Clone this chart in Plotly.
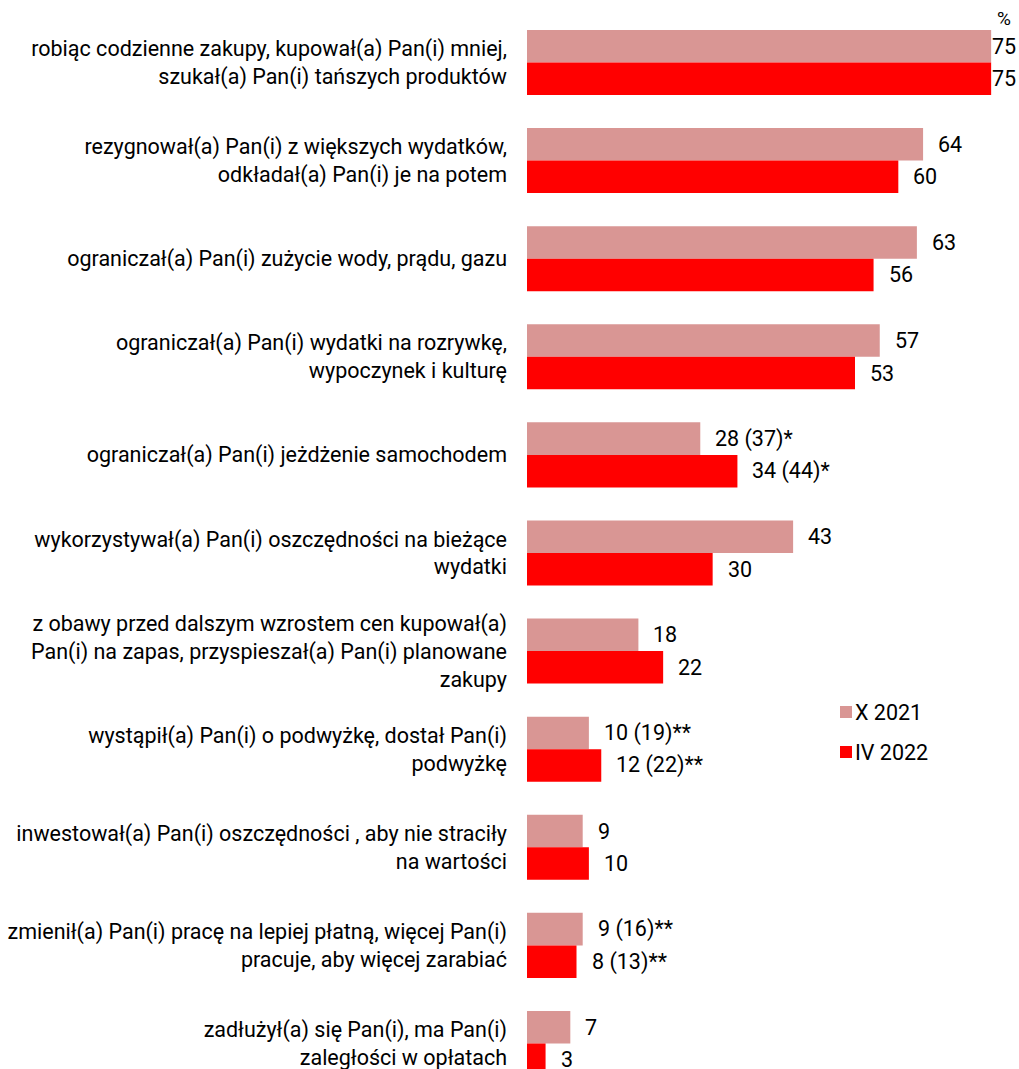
import plotly.graph_objects as go

categories = [
    "robiąc codzienne zakupy, kupował(a) Pan(i) mniej,<br>szukał(a) Pan(i) tańszych produktów",
    "rezygnował(a) Pan(i) z większych wydatków,<br>odkładał(a) Pan(i) je na potem",
    "ograniczał(a) Pan(i) zużycie wody, prądu, gazu",
    "ograniczał(a) Pan(i) wydatki na rozrywkę,<br>wypoczynek i kulturę",
    "ograniczał(a) Pan(i) jeżdżenie samochodem",
    "wykorzystywał(a) Pan(i) oszczędności na bieżące<br>wydatki",
    "z obawy przed dalszym wzrostem cen kupował(a)<br>Pan(i) na zapas, przyspieszał(a) Pan(i) planowane<br>zakupy",
    "wystąpił(a) Pan(i) o podwyżkę, dostał Pan(i)<br>podwyżkę",
    "inwestował(a) Pan(i) oszczędności , aby nie straciły<br>na wartości",
    "zmienił(a) Pan(i) pracę na lepiej płatną, więcej Pan(i)<br>pracuje, aby więcej zarabiać",
    "zadłużył(a) się Pan(i), ma Pan(i)<br>zaległości w opłatach",
]
series_names = ["X 2021", "IV 2022"]
values_2021 = [75, 64, 63, 57, 28, 43, 18, 10, 9, 9, 7]
values_2022 = [75, 60, 56, 53, 34, 30, 22, 12, 10, 8, 3]
labels_2021 = ["75", "64", "63", "57", "28 (37)*", "43", "18", "10 (19)**", "9", "9 (16)**", "7"]
labels_2022 = ["75", "60", "56", "53", "34 (44)*", "30", "22", "12 (22)**", "10", "8 (13)**", "3"]
colors = ["#d99694", "#ff0000"]

FONT = "Roboto"
FS = 21.5
W, H, L = 1019, 1069, 527
pos = list(range(len(categories)))

fig = go.Figure()
for name, vals, col in zip(series_names, [values_2021, values_2022], colors):
    fig.add_trace(go.Bar(
        y=pos, x=vals, orientation="h", name=name, marker_color=col,
        marker_line_width=0, showlegend=False,
    ))

# value labels
off = 0.1657
annotations = []
for vals, labs, sign in [(values_2021, labels_2021, -1), (values_2022, labels_2022, 1)]:
    for i, (v, t) in enumerate(zip(vals, labs)):
        annotations.append(dict(
            x=v, y=i + sign * off, text=t, showarrow=False, xanchor="left",
            yanchor="middle", xshift=13 if v < 72 else -1,
            font=dict(family=FONT, size=FS, color="#000"),
        ))
annotations.append(dict(
    x=1.0, y=1.0, xref="paper", yref="paper", text="%", showarrow=False,
    xanchor="right", yanchor="top", xshift=-6, yshift=-5,
    font=dict(family=FONT, size=19, color="#000"),
))

# custom legend
shapes = []
leg_px = [(840, 712), (840, 752)]
for (px, py), name, col in zip(leg_px, series_names, colors):
    shapes.append(dict(
        type="rect", xref="paper", yref="paper",
        x0=(px - L) / (W - L), x1=(px + 12 - L) / (W - L),
        y0=1 - (py + 6) / H, y1=1 - (py - 6) / H,
        fillcolor=col, line_width=0,
    ))
    annotations.append(dict(
        x=(px + 12 - L) / (W - L), y=1 - py / H, xref="paper", yref="paper",
        text=name, showarrow=False, xanchor="left", yanchor="middle", xshift=1,
        font=dict(family=FONT, size=FS, color="#000"),
    ))

fig.update_layout(
    width=W, height=H,
    margin=dict(l=L, r=0, t=0, b=0),
    paper_bgcolor="white", plot_bgcolor="white",
    barmode="group", bargap=0.337, bargroupgap=0,
    font=dict(family=FONT, size=FS, color="#000"),
    xaxis=dict(range=[0, 79.5], visible=False, showgrid=False, zeroline=False),
    yaxis=dict(
        range=[10.26, -0.637], tickmode="array", tickvals=pos, ticktext=categories,
        showgrid=False, zeroline=False, showline=False, ticks="", ticklabelstandoff=19,
        ticklabeloverflow="allow",
        tickfont=dict(family=FONT, size=FS, color="#000"),
    ),
    showlegend=False,
    annotations=annotations,
    shapes=shapes,
)

fig.write_html("out.html")
